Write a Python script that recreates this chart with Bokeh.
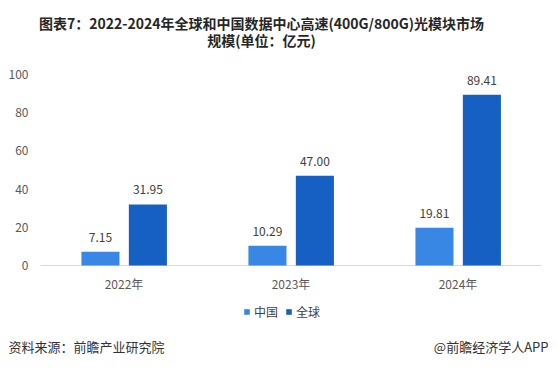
from bokeh.plotting import figure
from bokeh.models import (ColumnDataSource, Range1d, Label, LabelSet, Legend, LegendItem)
from bokeh.core.properties import value
from bokeh.transform import dodge
from bokeh.embed import file_html
from bokeh.resources import INLINE

# ---- data ----
years = ["2022年", "2023年", "2024年"]
china = [7.15, 10.29, 19.81]
world = [31.95, 47.00, 89.41]
series_names = ["中国", "全球"]
y_ticks = [0, 20, 40, 60, 80, 100]

title_lines = ["图表7：2022-2024年全球和中国数据中心高速(400G/800G)光模块市场",
               "规模(单位：亿元)"]
source_text = "资料来源：前瞻产业研究院"
brand_text = "@前瞻经济学人APP"

C_CHINA = "#3987e5"
C_WORLD = "#1660c3"
FONT = "Noto Sans CJK SC"

# ---- layout (pixels) ----
W, H = 549, 357
PLOT_LEFT = 40          # left edge of the category area
CAT_W = 167             # pixels per category
Y0_PX = 92              # y=0 line, pixels above the bottom
PX_PER_UNIT = 1.91

pos = [i + 0.5 for i in range(len(years))]
src = ColumnDataSource(dict(
    year=years, pos=pos, china=china, world=world,
    china_lbl=[f"{v:.2f}" for v in china],
    world_lbl=[f"{v:.2f}" for v in world],
))

p = figure(width=W, height=H,
           x_range=Range1d(-PLOT_LEFT / CAT_W, (W - PLOT_LEFT) / CAT_W),
           y_range=Range1d(-Y0_PX / PX_PER_UNIT, (H - Y0_PX) / PX_PER_UNIT),
           output_backend="svg", toolbar_location=None,
           x_axis_location=None, y_axis_location=None,
           min_border_left=0, min_border_right=0, min_border_top=0, min_border_bottom=0)
p.grid.visible = False
p.outline_line_color = None

# axis line
p.segment(x0=0, x1=len(years), y0=0, y1=0, line_color="#d9d9d9", line_width=1)

r1 = p.vbar(x=dodge("pos", -0.141), top="china", width=0.228,
            source=src, fill_color=C_CHINA, line_color=None)
r2 = p.vbar(x=dodge("pos", 0.143), top="world", width=0.228,
            source=src, fill_color=C_WORLD, line_color=None)

lbl_common = dict(text_font=value(FONT), text_font_size="12px", text_color="#404040",
                  text_align="center", text_baseline="bottom", y_offset=10, source=src)
p.add_layout(LabelSet(x=dodge("pos", -0.141), y="china", text="china_lbl", **lbl_common))
p.add_layout(LabelSet(x=dodge("pos", 0.143), y="world", text="world_lbl", **lbl_common))

# category (x) tick labels
p.add_layout(LabelSet(x="pos", y=0, text="year", source=src, y_offset=-18,
                      text_font=value(FONT), text_font_size="12px", text_color="#595959",
                      text_align="center", text_baseline="middle"))

# value (y) tick labels
tick_src = ColumnDataSource(dict(y=y_ticks, t=[str(v) for v in y_ticks], x=[28] * len(y_ticks)))
p.add_layout(LabelSet(x="x", y="y", text="t", source=tick_src, x_units="screen",
                      text_font=value(FONT), text_font_size="12px", text_color="#595959",
                      text_align="right", text_baseline="middle"))

# legend
legend = Legend(items=[LegendItem(label=series_names[0], renderers=[r1]),
                       LegendItem(label=series_names[1], renderers=[r2])],
                orientation="horizontal", location=(243, 37),
                glyph_width=7, glyph_height=7, label_standoff=4, spacing=7,
                label_text_font=FONT, label_text_font_size="12px", label_text_color="#404040",
                label_height=14, padding=0, margin=0,
                border_line_color=None, background_fill_alpha=0)
p.add_layout(legend, "center")

# title
tcommon = dict(x_units="screen", y_units="screen", text_font=FONT, text_font_size="14px",
               text_font_style="bold", text_color="#262626", text_align="center",
               text_baseline="middle")
p.add_layout(Label(x=261, y=H - 22, text=title_lines[0], **tcommon))
p.add_layout(Label(x=261, y=H - 39, text=title_lines[1], **tcommon))

# footer
fcommon = dict(x_units="screen", y_units="screen", text_font=FONT, text_font_size="13px",
               text_color="#333333", text_baseline="middle")
p.add_layout(Label(x=8, y=11, text=source_text, text_align="left", **fcommon))
p.add_layout(Label(x=W - 1, y=11, text=brand_text, text_align="right", **fcommon))

open("out.html", "w").write(file_html(p, INLINE))
